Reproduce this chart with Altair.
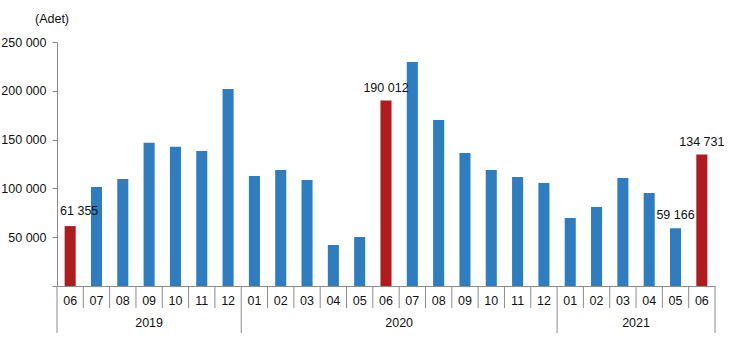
import altair as alt
import pandas as pd

years = ["2019"] * 7 + ["2020"] * 12 + ["2021"] * 6
months = ["06", "07", "08", "09", "10", "11", "12",
          "01", "02", "03", "04", "05", "06", "07", "08", "09", "10", "11", "12",
          "01", "02", "03", "04", "05", "06"]
values = [61355, 101500, 109600, 146800, 142700, 138300, 201800,
          112700, 118900, 108600, 42000, 50200, 190012, 229500, 170000, 136300, 118900, 111700, 105500,
          69700, 81000, 110700, 95300, 59166, 134731]
labelled = ["2019-06", "2020-06", "2021-05", "2021-06"]
highlight_month = "06"

keys = [f"{y}-{m}" for y, m in zip(years, months)]
df = pd.DataFrame({"key": keys, "year": years, "month": months, "value": values})
df["hl"] = df["month"] == highlight_month
df["label"] = [f"{v:,}".replace(",", " ") if k in labelled else "" for k, v in zip(keys, values)]

# year label anchors
yr_rows = []
for y in dict.fromkeys(years):
    ks = [k for k in keys if k.startswith(y)]
    n = len(ks)
    yr_rows.append({"year": y, "anchor": ks[n // 2], "odd": n % 2 == 1})
ydf = pd.DataFrame(yr_rows)

# separators
year_starts = [keys[i] for i in range(len(keys)) if i == 0 or years[i] != years[i - 1]]
sep_short = pd.DataFrame({"key": [k for k in keys if k not in year_starts]})
sep_long = pd.DataFrame({"key": year_starts})
sep_end = pd.DataFrame({"key": [keys[-1]]})

W, H = 658, 244
FONT = "Liberation Sans"

xscale = alt.Scale(domain=keys, paddingInner=0, paddingOuter=0)
yscale = alt.Scale(domain=[0, 250000])

bars = alt.Chart(df).mark_bar(width={"band": 0.42}).encode(
    x=alt.X("key:N", scale=xscale, sort=keys,
            axis=alt.Axis(title=None, labelExpr="substring(datum.value, 5, 7)", ticks=False,
                          labelAngle=0, labelPadding=8, labelFontSize=12.5, labelFont=FONT,
                          labelColor="#111", domainColor="#8c8c8c")),
    y=alt.Y("value:Q", scale=yscale,
            axis=alt.Axis(title=None, values=[0, 50000, 100000, 150000, 200000, 250000],
                          labelExpr="datum.value == 0 ? '' : replace(format(datum.value, ','), ',', ' ')",
                          grid=False, tickSize=5, labelPadding=6, labelFontSize=12.5, labelFont=FONT,
                          labelColor="#111", domainColor="#8c8c8c", tickColor="#8c8c8c")),
    color=alt.condition("datum.hl", alt.value("#B01B1E"), alt.value("#2E7DC0")),
)

labels = alt.Chart(df).transform_filter("datum.key != '2019-06'").mark_text(
    baseline="bottom", dy=-6, fontSize=12.5, font=FONT, color="#111").encode(
    x=alt.X("key:N", scale=xscale, sort=keys),
    y=alt.Y("value:Q", scale=yscale),
    text="label:N",
)
label_first = alt.Chart(df).transform_filter("datum.key == '2019-06'").mark_text(
    baseline="bottom", dy=-8, dx=9, fontSize=12.5, font=FONT, color="#111").encode(
    x=alt.X("key:N", scale=xscale, sort=keys),
    y=alt.Y("value:Q", scale=yscale),
    text="label:N",
)

short_rules = alt.Chart(sep_short).mark_rule(color="#8c8c8c").encode(
    x=alt.X("key:N", scale=xscale, sort=keys, bandPosition=0),
    y=alt.value(H), y2=alt.value(H + 22),
)
long_rules = alt.Chart(sep_long).mark_rule(color="#8c8c8c").encode(
    x=alt.X("key:N", scale=xscale, sort=keys, bandPosition=0),
    y=alt.value(H), y2=alt.value(H + 47),
)
end_rule = alt.Chart(sep_end).mark_rule(color="#8c8c8c").encode(
    x=alt.X("key:N", scale=xscale, sort=keys, bandPosition=1),
    y=alt.value(H), y2=alt.value(H + 47),
)

year_odd = alt.Chart(ydf).transform_filter("datum.odd").mark_text(
    baseline="middle", fontSize=12.5, font=FONT, color="#111").encode(
    x=alt.X("anchor:N", scale=xscale, sort=keys, bandPosition=0.5),
    y=alt.value(H + 37), text="year:N",
)
year_even = alt.Chart(ydf).transform_filter("!datum.odd").mark_text(
    baseline="middle", fontSize=12.5, font=FONT, color="#111").encode(
    x=alt.X("anchor:N", scale=xscale, sort=keys, bandPosition=0),
    y=alt.value(H + 37), text="year:N",
)

unit = alt.Chart(pd.DataFrame({"t": ["(Adet)"]})).mark_text(
    baseline="middle", align="center", fontSize=12.5, font=FONT, color="#111").encode(
    x=alt.value(-5), y=alt.value(-23), text="t:N",
)

chart = alt.layer(bars, labels, label_first, short_rules, long_rules, end_rule,
                  year_odd, year_even, unit).properties(
    width=W, height=H,
    autosize=alt.AutoSizeParams(type="none"),
    padding={"left": 57, "top": 42, "right": 14, "bottom": 77},
    background="white",
).configure_view(stroke=None)

chart.save("out.html", embed_options={"renderer": "svg", "actions": False})
